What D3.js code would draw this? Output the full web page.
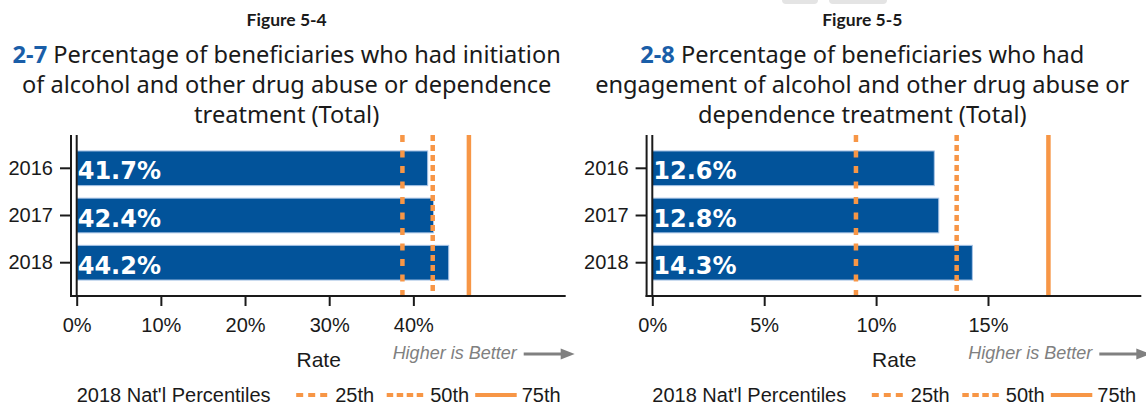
<!DOCTYPE html>
<html>
<head>
<meta charset="utf-8">
<script src="https://cdn.jsdelivr.net/npm/d3@7/dist/d3.min.js"></script>
<style>
  html, body { margin: 0; padding: 0; background: #ffffff; }
  svg { display: block; }
</style>
</head>
<body>
<svg id="chart" width="1146" height="406"></svg>
<script>
// Measurement years shown on the vertical axis
const years = ["2016", "2017", "2018"];

// 2-7: initiation of AOD treatment (percent)
const initiationRates = [41.7, 42.4, 44.2];
// 2-8: engagement of AOD treatment (percent)
const engagementRates = [12.6, 12.8, 14.3];

// 2018 national percentiles (25th, 50th, 75th)
const percentileNames = ["25th", "50th", "75th"];
const initiationPercentiles = [38.7, 42.3, 46.6];
const engagementPercentiles = [9.1, 13.6, 17.7];

// Rate axis tick values and extent
const initiationTicks = [0, 10, 20, 30, 40];
const engagementTicks = [0, 5, 10, 15];
const initiationAxisMax = 58.1;
const engagementAxisMax = 21.85;

// Headings
const figureLabels = ["Figure 5-4", "Figure 5-5"];
const measureIds = ["2-7", "2-8"];
const titleLines = [
  ["Percentage of beneficiaries who had initiation",
   "of alcohol and other drug abuse or dependence",
   "treatment (Total)"],
  ["Percentage of beneficiaries who had",
   "engagement of alcohol and other drug abuse or",
   "dependence treatment (Total)"]
];

const BAR = "#02539a";
const ORANGE = "#f79646";
const INK = "#1a1a1a";
const GREY = "#808080";
const SANS = "'Liberation Sans', Arial, sans-serif";
const TITLE_FONT = "'Noto Sans', 'Open Sans', sans-serif";
const dashFor = ["7,8.5", "6,4", null];
const legendDashFor = ["7,5", "6.5,3.5", null];

const svg = d3.select("#chart");

// faint tabs peeking in at the top edge
svg.append("rect").attr("x", 782).attr("y", -8).attr("width", 36).attr("height", 12)
  .attr("rx", 4).attr("fill", "#e4e4e4");
svg.append("rect").attr("x", 829).attr("y", -8).attr("width", 58).attr("height", 12)
  .attr("rx", 4).attr("fill", "#e4e4e4");

function drawPanel(cfg) {
  const g = svg.append("g");
  const x0 = cfg.left, plotW = 489;
  const top = 135, base = 296;

  const x = d3.scaleLinear().domain([0, cfg.axisMax]).range([x0, x0 + plotW]);
  const y = d3.scaleBand().domain(years).range([top, base])
    .paddingInner(0.265).paddingOuter(0.338);

  // headings
  const cx = x0 + 210;
  g.append("text").attr("x", cx).attr("y", 26)
    .attr("text-anchor", "middle")
    .attr("font-family", "Lato, 'Open Sans', sans-serif")
    .attr("font-weight", 700).attr("font-size", 17.5).attr("fill", INK)
    .text(cfg.figure);

  const title = g.append("text").attr("text-anchor", "middle")
    .attr("font-family", TITLE_FONT).attr("font-size", 23.6).attr("fill", INK);
  cfg.lines.forEach((line, i) => {
    const t = title.append("tspan").attr("x", cx).attr("y", 63 + i * 30);
    if (i === 0) {
      t.append("tspan").attr("font-weight", 700).attr("fill", "#1a5ea8").text(cfg.id + " ");
    }
    t.append("tspan").text(line);
  });

  // bars
  g.selectAll("rect.bar").data(cfg.values).join("rect")
    .attr("class", "bar")
    .attr("x", x(0))
    .attr("y", (d, i) => y(years[i]))
    .attr("width", d => x(d) - x(0))
    .attr("height", y.bandwidth())
    .attr("fill", BAR)
    .attr("stroke", "#a8c4e6").attr("stroke-width", 1);

  // value labels inside bars
  g.selectAll("text.val").data(cfg.values).join("text")
    .attr("class", "val")
    .attr("x", x(0) + 1)
    .attr("y", (d, i) => y(years[i]) + y.bandwidth() / 2 + 11)
    .attr("font-family", "'DejaVu Sans', Verdana, sans-serif")
    .attr("font-weight", 700).attr("font-size", 24).attr("fill", "#ffffff")
    .text(d => d.toFixed(1) + "%");

  // percentile reference lines
  g.selectAll("line.pct").data(cfg.percentiles).join("line")
    .attr("class", "pct")
    .attr("x1", d => x(d)).attr("x2", d => x(d))
    .attr("y1", top).attr("y2", base)
    .attr("stroke", ORANGE).attr("stroke-width", 4.5)
    .attr("stroke-dasharray", (d, i) => dashFor[i]);

  // rate axis
  const xAxis = g.append("g").attr("transform", `translate(0,${base})`)
    .call(d3.axisBottom(x).tickValues(cfg.ticks).tickFormat(d => d + "%")
      .tickSize(10).tickPadding(12).tickSizeOuter(0));
  xAxis.select(".domain").remove();
  xAxis.selectAll(".tick line").attr("stroke", INK).attr("stroke-width", 2);
  xAxis.selectAll(".tick text").attr("font-family", SANS).attr("font-size", 20).attr("fill", INK);

  // year axis (double rule on the left)
  const yAxis = g.append("g").attr("transform", `translate(${x0 - 5.7},0)`)
    .call(d3.axisLeft(y).tickSize(11).tickPadding(7).tickSizeOuter(0));
  yAxis.select(".domain").remove();
  yAxis.selectAll(".tick line").attr("stroke", INK).attr("stroke-width", 2);
  yAxis.selectAll(".tick text").attr("font-family", SANS).attr("font-size", 20).attr("fill", INK);

  g.append("line").attr("x1", x0 - 5.7).attr("x2", x0 - 5.7).attr("y1", top).attr("y2", base + 1)
    .attr("stroke", INK).attr("stroke-width", 2);
  g.append("line").attr("x1", x0).attr("x2", x0).attr("y1", top).attr("y2", base)
    .attr("stroke", INK).attr("stroke-width", 2);
  g.append("line").attr("x1", x0 - 6.7).attr("x2", x0 + plotW).attr("y1", base).attr("y2", base)
    .attr("stroke", INK).attr("stroke-width", 2);

  // axis title and direction hint
  g.append("text").attr("x", x0 + 242).attr("y", 367).attr("text-anchor", "middle")
    .attr("font-family", SANS).attr("font-size", 21).attr("fill", INK).text("Rate");
  g.append("text").attr("x", x0 + 440).attr("y", 359).attr("text-anchor", "end")
    .attr("font-family", SANS).attr("font-style", "italic").attr("font-size", 18)
    .attr("fill", GREY).text("Higher is Better");
  g.append("line").attr("x1", x0 + 447).attr("x2", x0 + 486).attr("y1", 354).attr("y2", 354)
    .attr("stroke", GREY).attr("stroke-width", 3);
  g.append("path")
    .attr("d", `M${x0 + 484},${348.5} L${x0 + 498},${354} L${x0 + 484},${359.5} Z`)
    .attr("fill", GREY);

  // percentile legend
  const ly = 402;
  g.append("text").attr("x", x0).attr("y", ly)
    .attr("font-family", SANS).attr("font-size", 20).attr("fill", INK)
    .text("2018 Nat'l Percentiles");
  const legendLine = [[219.5, 252], [310, 346.5], [398.5, 440]];
  const legendText = [258.5, 353.5, 445];
  percentileNames.forEach((name, i) => {
    g.append("line")
      .attr("x1", x0 + legendLine[i][0]).attr("x2", x0 + legendLine[i][1])
      .attr("y1", ly - 7).attr("y2", ly - 7)
      .attr("stroke", ORANGE).attr("stroke-width", 4)
      .attr("stroke-dasharray", legendDashFor[i]);
    g.append("text").attr("x", x0 + legendText[i]).attr("y", ly)
      .attr("font-family", SANS).attr("font-size", 20).attr("fill", INK)
      .text(name);
  });
}

drawPanel({
  left: 76.7, axisMax: initiationAxisMax, ticks: initiationTicks,
  values: initiationRates, percentiles: initiationPercentiles,
  figure: figureLabels[0], id: measureIds[0], lines: titleLines[0]
});
drawPanel({
  left: 652.3, axisMax: engagementAxisMax, ticks: engagementTicks,
  values: engagementRates, percentiles: engagementPercentiles,
  figure: figureLabels[1], id: measureIds[1], lines: titleLines[1]
});
</script>
</body>
</html>
